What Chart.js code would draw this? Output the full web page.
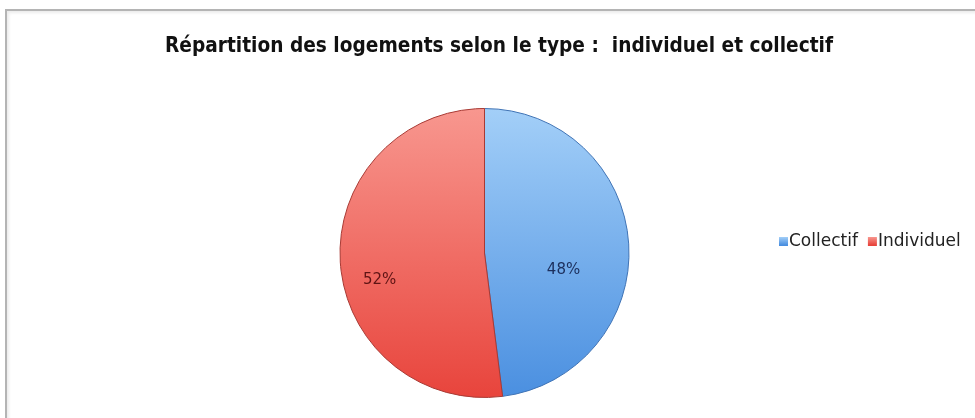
<!DOCTYPE html>
<html>
<head>
<meta charset="utf-8">
<script src="https://cdn.jsdelivr.net/npm/chart.js@4"></script>
<style>
  html, body { margin: 0; padding: 0; background: #fff; overflow: hidden; }
  #wrap { position: relative; width: 975px; height: 418px; }
  #frame {
    position: absolute; left: 5px; top: 9px; width: 1000px; height: 500px;
    border-left: 2px solid #b4b4b4; border-top: 2px solid #b4b4b4;
    box-shadow: inset 2px 2px 3px rgba(0,0,0,0.08);
  }
  canvas { position: absolute; left: 0; top: 0; }
</style>
</head>
<body>
<div id="wrap">
  <div id="frame"></div>
  <canvas id="chart" width="975" height="418"></canvas>
</div>
<script>
const TITLE = 'Répartition des logements selon le type :  individuel et collectif';
const categories = ['Collectif', 'Individuel'];
const shares = [48, 52];
const sliceTop = ['#a3cff8', '#f8978f'];
const sliceBottom = ['#4a8fe0', '#e8443c'];
const sliceEdge = ['#3f73b5', '#a83a34'];
const labelColors = ['#1c2f5c', '#5e1414'];

// fill each slice with a vertical gradient over the pie's height
const sliceFill = (ctx) => {
  const area = ctx.chart.chartArea;
  if (!area) return sliceBottom[ctx.dataIndex];
  const g = ctx.chart.ctx.createLinearGradient(0, area.top, 0, area.bottom);
  g.addColorStop(0, sliceTop[ctx.dataIndex]);
  g.addColorStop(1, sliceBottom[ctx.dataIndex]);
  return g;
};

// percentage labels placed inside the slices
const pctLabels = {
  id: 'pctLabels',
  afterDatasetsDraw(chart, args, opts) {
    const { ctx } = chart;
    const total = shares.reduce((a, b) => a + b, 0);
    chart.getDatasetMeta(0).data.forEach((arc, i) => {
      const p = arc.getProps(['x', 'y', 'startAngle', 'endAngle', 'outerRadius'], true);
      const place = opts.place[i];
      const mid = (p.startAngle + p.endAngle) / 2 + place.turn * Math.PI / 180;
      const r = p.outerRadius * place.r;
      ctx.save();
      ctx.font = '15px "DejaVu Sans"';
      ctx.fillStyle = labelColors[i];
      ctx.textAlign = 'center';
      ctx.textBaseline = 'middle';
      ctx.fillText(Math.round(shares[i] / total * 100) + '%', p.x + Math.cos(mid) * r, p.y + Math.sin(mid) * r);
      ctx.restore();
    });
  }
};

// title sits off the pie's axis, so it is drawn here rather than by the title plugin
const offsetTitle = {
  id: 'offsetTitle',
  afterDraw(chart, args, opts) {
    const { ctx } = chart;
    ctx.save();
    ctx.font = 'bold 21px "DejaVu Sans"';
    ctx.fillStyle = '#111';
    ctx.textBaseline = 'middle';
    ctx.fillText(TITLE, opts.x, opts.y, opts.width);
    ctx.restore();
  }
};

// single-row legend to the right of the pie
const rowLegend = {
  id: 'rowLegend',
  afterDraw(chart, args, opts) {
    const { ctx } = chart;
    ctx.save();
    ctx.font = '17px "DejaVu Sans"';
    ctx.textBaseline = 'middle';
    let x = opts.x;
    categories.forEach((name, i) => {
      const g = ctx.createLinearGradient(0, opts.y - 4, 0, opts.y + 4);
      g.addColorStop(0, sliceTop[i]);
      g.addColorStop(1, sliceBottom[i]);
      ctx.fillStyle = g;
      ctx.fillRect(x, opts.y - 4, 9, 9);
      x += 10;
      ctx.fillStyle = '#222';
      ctx.fillText(name, x, opts.y + 1);
      x += ctx.measureText(name).width + 10;
    });
    ctx.restore();
  }
};

new Chart(document.getElementById('chart'), {
  type: 'pie',
  data: {
    labels: categories,
    datasets: [{
      data: shares,
      backgroundColor: sliceFill,
      borderColor: sliceEdge,
      borderWidth: 1
    }]
  },
  options: {
    responsive: false,
    devicePixelRatio: 1,
    animation: false,
    layout: { padding: { top: 108, bottom: 20, left: 165, right: 171 } },
    plugins: {
      legend: { display: false },
      tooltip: { enabled: false },
      title: { display: false },
      offsetTitle: { x: 165, y: 47, width: 668 },
      pctLabels: { place: [{ r: 0.56, turn: 16 }, { r: 0.75, turn: -11 }] },
      rowLegend: { x: 779, y: 241 }
    }
  },
  plugins: [pctLabels, offsetTitle, rowLegend]
});
</script>
</body>
</html>
